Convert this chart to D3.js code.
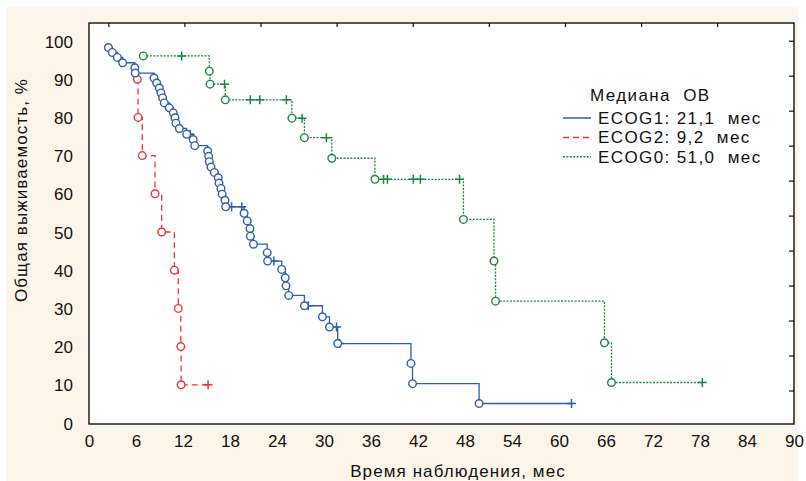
<!DOCTYPE html>
<html>
<head>
<meta charset="utf-8">
<script src="https://cdn.jsdelivr.net/npm/d3@7"></script>
<style>
  html, body { margin: 0; padding: 0; background: #ffffff; }
  svg { display: block; font-family: "Liberation Sans", Arial, sans-serif; }
  text { white-space: pre; }
</style>
</head>
<body>
<svg id="chart" width="806" height="481"></svg>
<script>
// ---------- DATA ----------
const xTickValues = [0, 6, 12, 18, 24, 30, 36, 42, 48, 54, 60, 66, 72, 78, 84, 90];
const yTickValues = [0, 10, 20, 30, 40, 50, 60, 70, 80, 90, 100];
const topTickIndex = [0, 1, 2, 3, 4, 5, 6, 7, 8];
const rightTickIndex = [0, 1, 2, 3, 4, 5, 6, 7, 8, 9, 10];

const seriesNames = ["ECOG1: 21,1  мес", "ECOG2: 9,2  мес", "ECOG0: 51,0  мес"];
const legendTitle = "Медиана  ОВ";
const xTitle = "Время наблюдения, мес";
const yTitle = "Общая выживаемость, %";

// ECOG1 (blue, solid): event times (months) and survival (%) after each event
const ecog1Times = [2.47, 2.98, 3.62, 4.30, 5.85, 5.9, 8.30, 8.64, 8.98, 9.19, 9.40, 9.61, 10.25, 10.76, 10.98, 11.10,
  11.53, 12.47, 13.30, 13.50, 15.15, 15.28, 15.36, 15.57, 16.00, 16.50, 16.60, 16.85, 17.00, 17.36, 17.45,
  19.8, 20.2, 20.55, 20.6, 21.0, 22.75, 22.8, 24.6, 25.05, 25.15, 25.5, 27.5, 29.8, 30.7, 31.75, 41.1, 41.3, 49.8];
const ecog1Surv = [98.3, 97.0, 95.7, 94.3, 93.0, 91.6, 90.3, 89.0, 87.7, 86.4, 85.1, 83.8, 82.5, 81.2, 79.9, 78.5,
  77.1, 75.6, 74.2, 72.6, 71.2, 69.8, 68.4, 67.0, 65.6, 64.2, 62.8, 61.4, 59.9, 58.3, 56.6,
  54.9, 52.9, 50.9, 48.9, 46.8, 44.6, 42.4, 40.2, 38.0, 35.9, 33.4, 30.7, 27.8, 25.1, 20.8, 15.6, 10.3, 5.1];
const ecog1Censored = [12.9, 18.2, 19.5, 23.6, 28.0, 31.6, 32.0, 61.6];

// ECOG2 (red, dashed)
const ecog2Times = [6.17, 6.26, 6.8, 8.43, 9.28, 10.9, 11.4, 11.72, 11.76];
const ecog2Surv = [90, 80, 70, 60, 50, 40, 30, 20, 10];
const ecog2Censored = [15.2];

// ECOG0 (green, dotted)
const ecog0Times = [6.93, 15.36, 15.45, 17.4, 25.9, 27.5, 31.0, 36.5, 47.8, 51.7, 51.9, 65.8, 66.7];
const ecog0Surv = [96.1, 92.1, 88.7, 84.6, 79.8, 74.7, 69.3, 63.8, 53.3, 42.4, 31.9, 21.0, 10.6];
const ecog0Censored = [11.83, 17.3, 20.6, 21.8, 25.2, 27.2, 30.3, 37.6, 38.1, 41.4, 42.3, 47.3, 78.3];

const seriesColors = ["#2d5fae", "#ec3535", "#17893d"];
const seriesDash = [null, "6,4", "2,1.4"];

// ---------- LAYOUT ----------
const svg = d3.select("#chart");
const plot = { left: 89, right: 794, top: 23, bottom: 424 };

const x = d3.scaleLinear().domain([0, 90]).range([plot.left, plot.right]);
const y = d3.scaleLinear().domain([0, 100]).range([423, 41]);
const xTop = d3.scaleLinear().domain([0, 8]).range([108.3, 717.2]);
const yRight = d3.scaleLinear().domain([0, 10]).range([40.7, 390.5]);

// backgrounds
svg.append("rect").attr("x", 6).attr("y", 7).attr("width", 792).attr("height", 474).attr("fill", "#fdf5e9");
svg.append("rect").attr("x", plot.left).attr("y", plot.top)
  .attr("width", plot.right - plot.left).attr("height", plot.bottom - plot.top).attr("fill", "#ffffff");

// ---------- AXES ----------
const fontSize = 17;
const xAxis = d3.axisBottom(x).tickValues(xTickValues).tickSize(0).tickPadding(0).tickFormat(d3.format("d"));
const gx = svg.append("g").attr("transform", `translate(0,${plot.bottom})`).call(xAxis);
gx.select(".domain").remove();
gx.selectAll("text").attr("y", 23).attr("dy", 0).attr("font-size", fontSize)
  .attr("fill", "#111").attr("font-family", "Liberation Sans, Arial, sans-serif");

const yAxis = d3.axisLeft(y).tickValues(yTickValues).tickSize(0).tickPadding(0).tickFormat(d3.format("d"));
const gy = svg.append("g").attr("transform", `translate(${plot.left - 16},0)`).call(yAxis);
gy.select(".domain").remove();
gy.selectAll("text").attr("x", 0).attr("dy", "0.36em").attr("font-size", fontSize)
  .attr("fill", "#111").attr("font-family", "Liberation Sans, Arial, sans-serif");

// top ticks (pointing inward)
const gTop = svg.append("g").attr("transform", `translate(0,${plot.top})`)
  .call(d3.axisTop(xTop).tickValues(topTickIndex).tickSize(-4).tickFormat(""));
gTop.select(".domain").remove();
gTop.selectAll("line").attr("stroke", "#111").attr("stroke-width", 1.2);

// right ticks (pointing inward)
const gRight = svg.append("g").attr("transform", `translate(${plot.right},0)`)
  .call(d3.axisRight(yRight).tickValues(rightTickIndex).tickSize(-5).tickFormat(""));
gRight.select(".domain").remove();
gRight.selectAll("line").attr("stroke", "#111").attr("stroke-width", 1.2);

// frame
svg.append("rect").attr("x", plot.left).attr("y", plot.top)
  .attr("width", plot.right - plot.left).attr("height", plot.bottom - plot.top)
  .attr("fill", "none").attr("stroke", "#111").attr("stroke-width", 1.4);

// axis titles
svg.append("text").attr("x", 458).attr("y", 477).attr("text-anchor", "middle")
  .attr("font-size", fontSize).attr("letter-spacing", 1.1).attr("fill", "#111").text(xTitle);
svg.append("text").attr("transform", "translate(27,190) rotate(-90)").attr("text-anchor", "middle")
  .attr("font-size", fontSize).attr("letter-spacing", 1.1).attr("fill", "#111").text(yTitle);

// ---------- CURVES ----------
function survivalAt(times, surv, t) {
  let s = null;
  for (let i = 0; i < times.length; i++) if (times[i] <= t) s = surv[i];
  return s;
}

function drawSeries(times, surv, censored, color, dash) {
  const pts = [[times[0], surv[0]]];
  for (let i = 1; i < times.length; i++) {
    pts.push([times[i], surv[i - 1]]);
    pts.push([times[i], surv[i]]);
  }
  const lastC = d3.max(censored);
  if (lastC > times[times.length - 1]) pts.push([lastC, surv[surv.length - 1]]);
  const line = d3.line().x(d => x(d[0])).y(d => y(d[1]));
  const g = svg.append("g");
  g.append("path").attr("d", line(pts)).attr("fill", "none").attr("stroke", color)
    .attr("stroke-width", 1.3).attr("stroke-dasharray", dash);
  // censored marks (+)
  censored.forEach(t => {
    const s = survivalAt(times, surv, t);
    const cx = x(t), cy = y(s);
    g.append("path").attr("d", `M${cx - 4.5},${cy}H${cx + 4.5}M${cx},${cy - 4.5}V${cy + 4.5}`)
      .attr("stroke", color).attr("stroke-width", 1.5).attr("fill", "none");
  });
  // events (o)
  g.selectAll("circle").data(times.map((t, i) => [t, surv[i]])).join("circle")
    .attr("cx", d => x(d[0])).attr("cy", d => y(d[1])).attr("r", 3.8)
    .attr("fill", "#ffffff").attr("stroke", color).attr("stroke-width", 1.4);
}

drawSeries(ecog0Times, ecog0Surv, ecog0Censored, seriesColors[2], seriesDash[2]);
drawSeries(ecog2Times, ecog2Surv, ecog2Censored, seriesColors[1], seriesDash[1]);
drawSeries(ecog1Times, ecog1Surv, ecog1Censored, seriesColors[0], seriesDash[0]);

// ---------- LEGEND ----------
const legend = svg.append("g").attr("transform", "translate(563,0)");
legend.append("text").attr("x", 27).attr("y", 101).attr("font-size", 17).attr("letter-spacing", 1.4)
  .attr("fill", "#111").text(legendTitle);
seriesNames.forEach((name, i) => {
  const ly = 118 + i * 19.4;
  legend.append("line").attr("x1", 0).attr("x2", 28).attr("y1", ly).attr("y2", ly)
    .attr("stroke", seriesColors[i]).attr("stroke-width", 1.5).attr("stroke-dasharray", seriesDash[i]);
  legend.append("text").attr("x", 35).attr("y", ly + 6).attr("font-size", 17).attr("letter-spacing", 1.4)
    .attr("fill", "#111").text(name);
});
</script>
</body>
</html>
